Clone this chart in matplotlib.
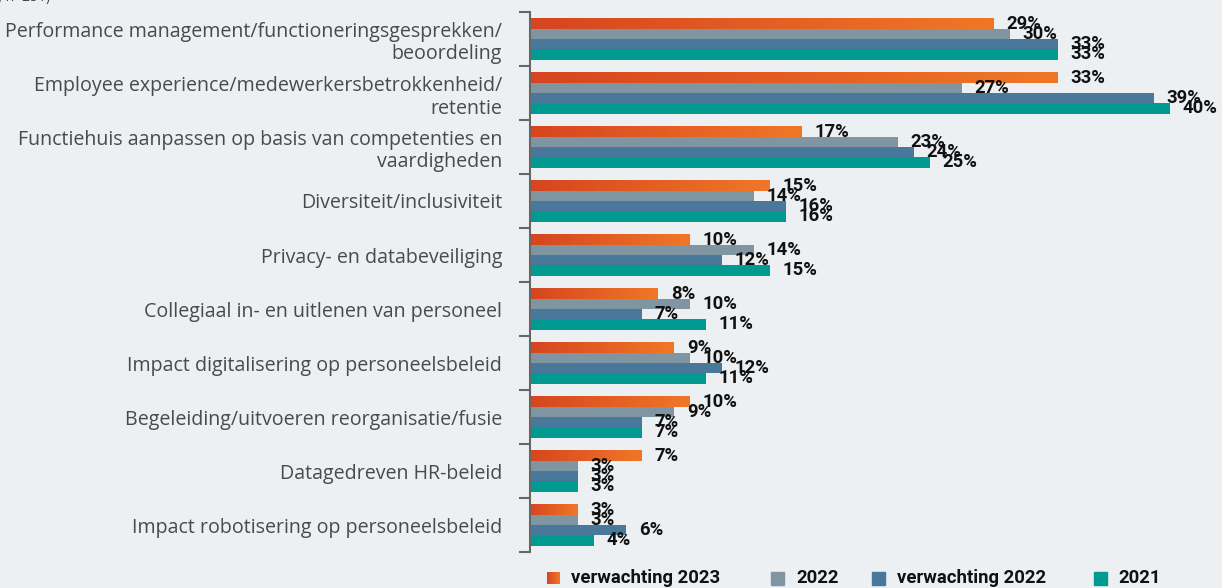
import numpy as np
import matplotlib
matplotlib.use("Agg")
import matplotlib.pyplot as plt
from matplotlib.colors import LinearSegmentedColormap
from matplotlib.patches import Rectangle

# categorieën en waarden (in %)
categories = [
    "Performance management/functioneringsgesprekken/\nbeoordeling",
    "Employee experience/medewerkersbetrokkenheid/\nretentie",
    "Functiehuis aanpassen op basis van competenties en\nvaardigheden",
    "Diversiteit/inclusiviteit",
    "Privacy- en databeveiliging",
    "Collegiaal in- en uitlenen van personeel",
    "Impact digitalisering op personeelsbeleid",
    "Begeleiding/uitvoeren reorganisatie/fusie",
    "Datagedreven HR-beleid",
    "Impact robotisering op personeelsbeleid",
]
verw_2023 = [29, 33, 17, 15, 10, 8, 9, 10, 7, 3]
jaar_2022 = [30, 27, 23, 14, 14, 10, 10, 9, 3, 3]
verw_2022 = [33, 39, 24, 16, 12, 7, 12, 7, 3, 6]
jaar_2021 = [33, 40, 25, 16, 15, 11, 11, 7, 3, 4]
series_names = ["verwachting 2023", "2022", "verwachting 2022", "2021"]

bg = "#ECF0F3"
colors = ["#E35F22", "#7F96A2", "#4A789B", "#009A91"]
orange_cmap = LinearSegmentedColormap.from_list("oranje", ["#D6451F", "#F07727"])
bold_font = ["Roboto", "DejaVu Sans"]

plt.rcParams["font.family"] = ["Open Sans", "DejaVu Sans"]

fig = plt.figure(figsize=(12.22, 5.88), dpi=100, facecolor=bg)
ax = fig.add_axes([530 / 1222, 1 - 552 / 588, 1 - 530 / 1222, 540 / 588])
ax.set_facecolor(bg)

h = 0.19
y = np.arange(len(categories))
all_series = [verw_2023, jaar_2022, verw_2022, jaar_2021]
grad = np.linspace(0, 1, 256).reshape(1, -1)

for k, vals in enumerate(all_series):
    yy = y + (k - 1.5) * h
    if k == 0:
        # oranje balken met kleurverloop
        for yi, v in zip(yy, vals):
            ax.imshow(grad, cmap=orange_cmap, aspect="auto", interpolation="bicubic",
                      extent=(0, v, yi + h / 2, yi - h / 2), zorder=2)
    else:
        ax.barh(yy, vals, height=h, color=colors[k], zorder=2)
    for yi, v in zip(yy, vals):
        ax.text(v + 0.8, yi, f"{v}%", va="center", ha="left", fontsize=13.3,
                fontweight="bold", family=bold_font, color="#111111", zorder=3)

ax.set_xlim(0, 692 / 16)
ax.set_ylim(len(categories) - 0.5, -0.5)

# as: alleen linker lijn met streepjes tussen de categorieën
for s in ["top", "right", "bottom"]:
    ax.spines[s].set_visible(False)
ax.spines["left"].set_color("#666666")
ax.spines["left"].set_linewidth(1.5)
ax.set_xticks([])
ax.set_yticks(y)
ax.set_yticklabels(categories, fontsize=14.1, color="#4A4A4A", linespacing=1.2)
ax.tick_params(axis="y", which="major", length=0, pad=20)
ax.set_yticks(np.arange(-0.5, len(categories)), minor=True)
ax.tick_params(axis="y", which="minor", length=8, width=1.5, color="#666666")

# legenda onderaan
leg_y = 1 - 578 / 588
sq = 13
positions = [(547, 571), (771, 796), (872, 897), (1094, 1118)]
for k, (sx, tx) in enumerate(positions):
    if k == 0:
        lax = fig.add_axes([sx / 1222, leg_y - (sq / 2) / 588, sq / 1222, sq / 588])
        lax.imshow(grad, cmap=orange_cmap, aspect="auto")
        lax.axis("off")
    else:
        fig.patches.append(Rectangle((sx / 1222, leg_y - (sq / 2) / 588), sq / 1222, sq / 588,
                                     transform=fig.transFigure, color=colors[k]))
    fig.text(tx / 1222, leg_y, series_names[k], va="center", ha="left", fontsize=13.3,
             fontweight="bold", family=bold_font, color="#111111")

# afgesneden bron-tekst bovenaan
fig.text(-0.004, 1 - 5 / 588, "l, n=251)", fontsize=10, color="#4A4A4A", va="bottom")

fig.savefig("out.png", dpi=100, facecolor=bg)
